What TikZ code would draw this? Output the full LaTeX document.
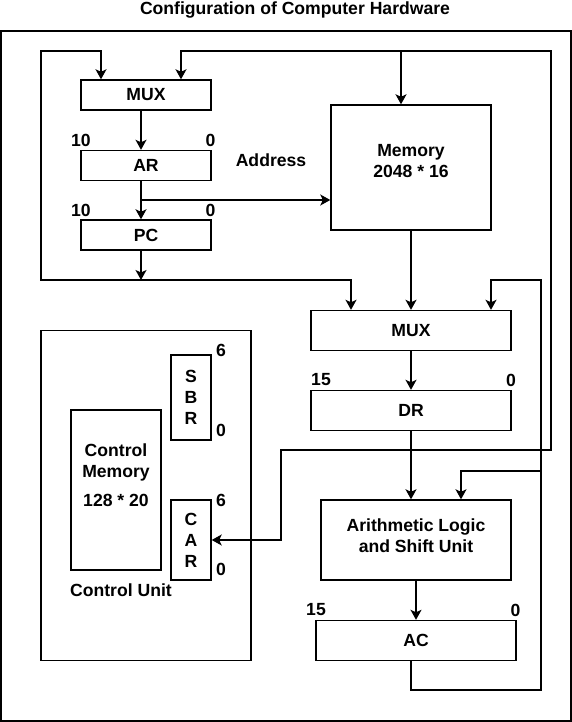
\documentclass[tikz,border=0pt]{standalone}
\usepackage{fontspec}
\setmainfont{Liberation Sans}
\usetikzlibrary{arrows.meta}

\begin{document}
\begin{tikzpicture}[x=1pt,y=-1pt,line width=1.4pt,
    every node/.style={font=\bfseries\fontsize{17.6}{21}\selectfont},
    box/.style={draw,inner sep=0pt,minimum width=#1},
    lbl/.style={inner sep=0pt,align=center},
    wire/.style={-{Stealth[length=10pt,width=11pt,inset=2.5pt]}}]
  \useasboundingbox (0,0) rectangle (572,722);
  \node[lbl] (title) at (295,10) {Configuration of Computer Hardware};
  \node[box=570,minimum height=690] (frame) at (286,376) {};
  \node[box=130,minimum height=30] (mux1) at (146,95) {MUX};
  \node[box=130,minimum height=30] (ar) at (146,165.5) {AR};
  \node[box=130,minimum height=30] (pc) at (146,235) {PC};
  \node[box=160,minimum height=125] (mem) at (411,167.5) {};
  \node[lbl] (memtxt) at (411,161) {Memory\\2048 * 16};
  \node[lbl] (addr) at (271,160) {Address};
  \node[box=200,minimum height=40] (mux2) at (411,330.5) {MUX};
  \node[box=200,minimum height=40] (dr) at (411,410.5) {DR};
  \node[box=190,minimum height=80] (alu) at (416,540) {};
  \node[lbl] (alutxt) at (416,535.5) {Arithmetic Logic\\and Shift Unit};
  \node[box=200,minimum height=40] (ac) at (416,640.5) {AC};
  \node[box=210,minimum height=330] (cu) at (146,495.5) {};
  \node[box=90,minimum height=160] (cm) at (116,490) {};
  \node[lbl] (cmtxt) at (116,475) {Control\\Memory\\[8pt]128 * 20};
  \node[box=40,minimum height=85,align=center] (sbr) at (191,397.5) {S\\B\\R};
  \node[box=40,minimum height=80,align=center] (car) at (191,540) {C\\A\\R};
  \node[lbl] (cutxt) at (121,590) {Control Unit};
  \foreach \x/\y/\t [count=\i] in {81/140/10, 210.5/140/0, 81/210/10, 210.5/210/0,
                                   321/380/15, 511/380/0, 316/610/15, 515.5/610/0,
                                   221/350/6, 221/430/0, 221/500/6, 221/569/0}
    \node[lbl] (bit\i) at (\x,\y) {\t};
  \coordinate (pcbus) at (141,280);
  \coordinate (lbusB) at (41,280);
  \coordinate (lbusT) at (41,51);
  \coordinate (membus) at (401,51);
  \coordinate (rbusT) at (551,51);
  \coordinate (rbusB) at (551,450);
  \coordinate (carbend) at (281,450);
  \coordinate (arbr) at (141,200);
  \coordinate (acbusB) at (541,690);
  \coordinate (acbusT) at (541,280);
  \coordinate (alubr) at (541,471);
  \draw[wire] ([xshift=-5pt]mux1.south) -- ([xshift=-5pt]ar.north);
  \draw[wire] ([xshift=-5pt]ar.south) -- ([xshift=-5pt]pc.north);
  \draw[wire] (arbr) -- (arbr -| mem.west);
  \draw[wire] ([xshift=-5pt]pc.south) -- (pcbus);
  \draw[wire] (pcbus) -- (lbusB) -- (lbusT) -| ([xshift=-45pt]mux1.north);
  \draw[wire] (pcbus) -| ([xshift=-60pt]mux2.north);
  \draw[wire] (membus) -- ([xshift=-10pt]mem.north);
  \draw[wire] (membus) -| ([xshift=35pt]mux1.north);
  \draw[wire] (membus) -- (rbusT) -- (rbusB) -- (carbend) |- (car.east);
  \draw[wire] (mem.south) -- (mux2.north);
  \draw[wire] (mux2) -- (dr);
  \draw[wire] (dr.south) -- (dr.south |- alu.north);
  \draw[wire] (alu) -- (ac);
  \draw[wire] ([xshift=-5pt]ac.south) |- (acbusB) -- (acbusT) -| ([xshift=80pt]mux2.north);
  \draw[wire] (alubr) -| ([xshift=45pt]alu.north);
\end{tikzpicture}
\end{document}
